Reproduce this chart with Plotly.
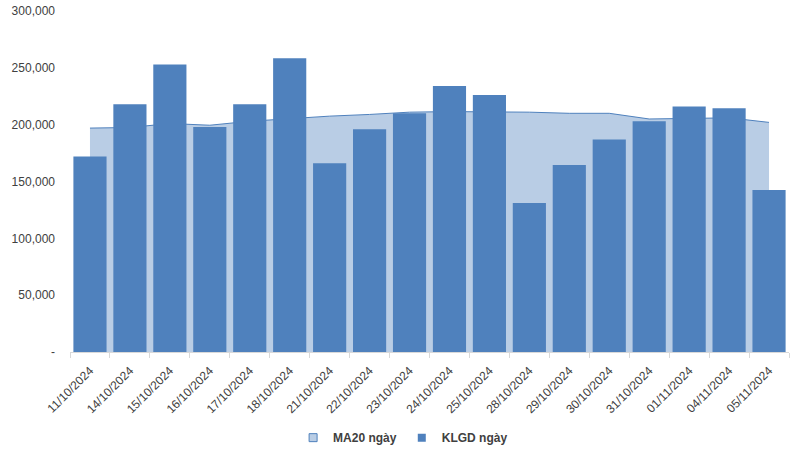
import plotly.graph_objects as go

dates = ["11/10/2024", "14/10/2024", "15/10/2024", "16/10/2024", "17/10/2024", "18/10/2024",
         "21/10/2024", "22/10/2024", "23/10/2024", "24/10/2024", "25/10/2024", "28/10/2024",
         "29/10/2024", "30/10/2024", "31/10/2024", "01/11/2024", "04/11/2024", "05/11/2024"]
klgd = [172000, 218000, 253000, 198000, 218000, 258500, 166000, 196000, 210000, 234000,
        226000, 131000, 164500, 187000, 203000, 216000, 214500, 142500]
ma20 = [197000, 197500, 201000, 199500, 203000, 205500, 207500, 209000, 211000, 211500,
        211500, 211000, 210000, 210000, 205000, 205500, 206000, 202000]
ytick_vals = [0, 50000, 100000, 150000, 200000, 250000, 300000]
ytick_text = ["-", "50,000", "100,000", "150,000", "200,000", "250,000", "300,000"]

BAR = "#4f81bd"
AREA = "#b9cde5"

fig = go.Figure()
# area (drawn first, on base axes)
fig.add_trace(go.Scatter(x=dates, y=ma20, name="MA20 ngày", mode="lines", fill="tozeroy",
                         line=dict(color=BAR, width=1), fillcolor=AREA, showlegend=False))
# bars on overlaying y axis so they are drawn above the area
fig.add_trace(go.Bar(x=dates, y=klgd, name="KLGD ngày", yaxis="y2",
                     marker=dict(color=BAR, line=dict(width=0)), showlegend=False))
# legend entries (square swatches)
fig.add_trace(go.Scatter(x=[None], y=[None], name="MA20 ngày", mode="markers",
                         marker=dict(symbol="square", size=8, color=AREA, line=dict(color=BAR, width=1))))
fig.add_trace(go.Scatter(x=[None], y=[None], name="KLGD ngày", mode="markers",
                         marker=dict(symbol="square", size=8, color=BAR, line=dict(width=0))))

fig.update_layout(
    width=803, height=455,
    margin=dict(l=70, r=14, t=11, b=103, autoexpand=False),
    paper_bgcolor="white", plot_bgcolor="white",
    bargap=0.17,
    font=dict(family="Arial, Liberation Sans", size=12, color="#404040"),
    legend=dict(orientation="h", xref="container", x=0.502, xanchor="center",
                yref="container", y=0.07, yanchor="top",
                font=dict(size=12, color="#404040", family="Arial, Liberation Sans", weight="bold"),
                itemwidth=30, tracegroupgap=0, itemclick=False),
    showlegend=True,
    xaxis=dict(type="category", tickangle=-45, tickson="boundaries", ticks="outside",
               ticklen=5, tickcolor="#d9d9d9", showline=True, linecolor="#d9d9d9",
               showgrid=False, automargin=False, ticklabelstandoff=6,
               tickfont=dict(size=12, color="#404040")),
    yaxis=dict(range=[0, 300000], tickvals=ytick_vals, ticktext=ytick_text, showgrid=False,
               showline=False, zeroline=False, automargin=False, ticklabelstandoff=14,
               tickfont=dict(size=12, color="#404040")),
    yaxis2=dict(range=[0, 300000], overlaying="y", showgrid=False, showline=False,
                zeroline=False, showticklabels=False, visible=False),
)

fig.write_html("out.html")
